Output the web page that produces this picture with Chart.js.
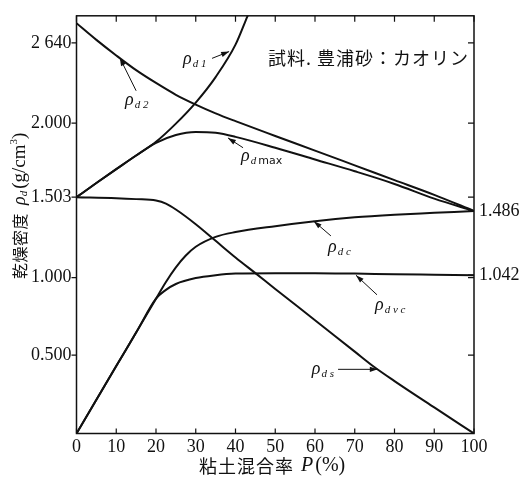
<!DOCTYPE html>
<html>
<head>
<meta charset="utf-8">
<script src="https://cdn.jsdelivr.net/npm/chart.js@4.4.1/dist/chart.umd.min.js"></script>
<style>
  html, body { margin: 0; padding: 0; background: #fff; }
  #wrap { width: 522px; height: 482px; }
</style>
</head>
<body>
<div id="wrap"><canvas id="densityChart"></canvas></div>
<script>
// clay content P (%) and dry density (g/cm3)
const pD1 = [0, 5, 10, 15, 20, 25, 30, 35, 40, 43, 45];
const rhoD1 = [1.503, 1.598, 1.691, 1.783, 1.875, 1.997, 2.164, 2.367, 2.625, 2.851, 3.0];

const pD2 = [0, 5, 10, 15, 20, 25, 30, 35, 40, 50, 60, 70, 80, 90, 100];
const rhoD2 = [2.796, 2.663, 2.539, 2.422, 2.320, 2.226, 2.148, 2.078, 2.016, 1.914, 1.816, 1.717, 1.618, 1.519, 1.417];

const pDmax = [0, 5, 10, 15, 20, 25, 30, 35, 40, 50, 60, 70, 80, 90, 100];
const rhoDmax = [1.503, 1.598, 1.691, 1.783, 1.868, 1.921, 1.941, 1.935, 1.908, 1.835, 1.756, 1.677, 1.592, 1.494, 1.417];

const pDs = [0, 10, 15, 20, 22.5, 25, 30, 35, 40, 45, 50, 60, 70, 75, 80, 90, 100];
const rhoDs = [1.503, 1.497, 1.491, 1.482, 1.463, 1.426, 1.334, 1.230, 1.126, 1.028, 0.927, 0.725, 0.522, 0.422, 0.334, 0.166, 0];

const pDc = [0, 5, 10, 15, 20, 22.5, 25, 27.5, 30, 35, 40, 50, 60, 70, 80, 90, 100];
const rhoDc = [0, 0.215, 0.43, 0.645, 0.864, 0.972, 1.064, 1.138, 1.193, 1.255, 1.285, 1.322, 1.353, 1.377, 1.393, 1.405, 1.417];

const pDvc = [0, 5, 10, 15, 20, 22.5, 25, 30, 35, 40, 50, 60, 70, 80, 90, 100];
const rhoDvc = [0, 0.215, 0.43, 0.645, 0.864, 0.921, 0.959, 0.997, 1.015, 1.025, 1.028, 1.028, 1.025, 1.021, 1.018, 1.015];

const xTicks = [0, 10, 20, 30, 40, 50, 60, 70, 80, 90, 100];
const yTicks = [0.5, 1.0, 1.503, 2.0, 2.64];
const yTickLabels = ['0.500', '1.000', '1.503', '2.000', '2 640'];
const y2Ticks = [1.042, 1.486];
const y2TickLabels = ['1.042', '1.486'];

// the printed axis is not evenly spaced, so each axis gets its own anchor points (value -> fraction of height)
const axisAnchors = {
  y: [[0, 0], [0.5, 0.1878], [1.0, 0.3732], [1.503, 0.5657], [2.0, 0.7430], [2.64, 0.9354], [2.855, 1]],
  y2: [[0, 0], [1.042, 0.3791], [1.486, 0.5329], [2.855, 1]]
};

function toDecimal(anchors, v) {
  let i = 1;
  while (i < anchors.length - 1 && v > anchors[i][0]) i++;
  const [v0, f0] = anchors[i - 1], [v1, f1] = anchors[i];
  return f0 + (v - v0) * (f1 - f0) / (v1 - v0);
}
function fromDecimal(anchors, f) {
  let i = 1;
  while (i < anchors.length - 1 && f > anchors[i][1]) i++;
  const [v0, f0] = anchors[i - 1], [v1, f1] = anchors[i];
  return v0 + (f - f0) * (v1 - v0) / (f1 - f0);
}

class AnchoredScale extends Chart.LinearScale {
  getPixelForValue(value) {
    if (value === null || isNaN(value)) return NaN;
    return this.getPixelForDecimal(toDecimal(axisAnchors[this.id], value));
  }
  getValueForPixel(pixel) {
    return fromDecimal(axisAnchors[this.id], this.getDecimalForPixel(pixel));
  }
}
AnchoredScale.id = 'anchored';
AnchoredScale.defaults = {};
Chart.register(AnchoredScale);

const pts = (ps, vs) => ps.map((p, i) => ({ x: p, y: vs[i] }));
const curve = (label, ps, vs) => ({
  label, data: pts(ps, vs),
  borderColor: '#111', borderWidth: 2, pointRadius: 0,
  cubicInterpolationMode: 'monotone', fill: false
});

const serif = '"Liberation Serif", "DejaVu Serif", serif';
const cjk = '"Noto Sans CJK JP", sans-serif';

function put(ctx, text, font, x, y) {
  ctx.font = font;
  ctx.fillText(text, x, y);
  return x + ctx.measureText(text).width;
}

function arrow(ctx, x0, y0, x1, y1) {
  ctx.beginPath();
  ctx.moveTo(x0, y0);
  ctx.lineTo(x1, y1);
  ctx.lineWidth = 1;
  ctx.stroke();
  const a = Math.atan2(y1 - y0, x1 - x0), L = 8, W = 2.6;
  ctx.beginPath();
  ctx.moveTo(x1, y1);
  ctx.lineTo(x1 - L * Math.cos(a) + W * Math.sin(a), y1 - L * Math.sin(a) - W * Math.cos(a));
  ctx.lineTo(x1 - L * Math.cos(a) - W * Math.sin(a), y1 - L * Math.sin(a) + W * Math.cos(a));
  ctx.closePath();
  ctx.fill();
}

const decorations = {
  id: 'decorations',
  afterDatasetsDraw(chart) {
    const { ctx, chartArea: a, scales } = chart;
    const sx = scales.x, sy = scales.y;
    ctx.save();
    ctx.strokeStyle = '#111';
    ctx.fillStyle = '#111';

    // frame and tick marks
    ctx.lineWidth = 1.5;
    ctx.strokeRect(a.left, a.top, a.right - a.left, a.bottom - a.top);
    ctx.lineWidth = 1.2;
    ctx.beginPath();
    sx.ticks.forEach(t => {
      const px = sx.getPixelForValue(t.value);
      ctx.moveTo(px, a.bottom); ctx.lineTo(px, a.bottom - 5);
      ctx.moveTo(px, a.top); ctx.lineTo(px, a.top + 6);
    });
    sy.ticks.forEach(t => {
      const py = sy.getPixelForValue(t.value);
      ctx.moveTo(a.left - 5, py); ctx.lineTo(a.left, py);
      ctx.moveTo(a.right, py); ctx.lineTo(a.right - 6, py);
    });
    scales.y2.ticks.forEach(t => {
      const py = scales.y2.getPixelForValue(t.value);
      ctx.moveTo(a.right, py); ctx.lineTo(a.right - 6, py);
    });
    ctx.stroke();

    // curve names with leader arrows (positions in data units)
    const notes = [
      { sub: 'd1', text: [26.8, 2.469], from: [34.1, 2.516], to: [38.4, 2.570] },
      { sub: 'd2', text: [12.2, 2.148], from: [15.0, 2.258], to: [10.9, 2.52] },
      { sub: 'd', tail: 'max', text: [41.4, 1.743], from: [41.9, 1.835], to: [38.1, 1.901] },
      { sub: 'dc', text: [63.3, 1.163], from: [64.0, 1.261], to: [59.7, 1.353] },
      { sub: 'dvc', text: [75.1, 0.788], from: [75.6, 0.889], to: [70.3, 1.015] },
      { sub: 'ds', text: [59.2, 0.378], from: [65.8, 0.409], to: [75.8, 0.409] }
    ];
    ctx.textBaseline = 'alphabetic';
    ctx.textAlign = 'left';
    notes.forEach(n => {
      let x = sx.getPixelForValue(n.text[0]);
      const y = sy.getPixelForValue(n.text[1]);
      x = put(ctx, 'ρ', 'italic 18px ' + serif, x, y);
      x = put(ctx, n.sub.split('').join(' '), 'italic 11px ' + serif, x + 1, y + 3);
      if (n.tail) put(ctx, 'max', '11px "DejaVu Sans", sans-serif', x + 2, y + 3);
      arrow(ctx, sx.getPixelForValue(n.from[0]), sy.getPixelForValue(n.from[1]),
        sx.getPixelForValue(n.to[0]), sy.getPixelForValue(n.to[1]));
    });

    // sample note
    ctx.textAlign = 'right';
    ctx.textBaseline = 'middle';
    ctx.letterSpacing = '1px';
    put(ctx, '試料. 豊浦砂：カオリン', '18px ' + cjk, a.right - 5, a.top + 42);

    // x axis title
    ctx.textAlign = 'left';
    ctx.letterSpacing = '1px';
    let tx = 199;
    tx = put(ctx, '粘土混合率', '18px ' + cjk, tx, 466);
    ctx.letterSpacing = '0px';
    tx = put(ctx, 'P', 'italic 20px ' + serif, tx + 7, 466);
    put(ctx, '(%)', '20px ' + serif, tx + 2, 466);

    // y axis title, reading bottom to top
    ctx.translate(20, 279);
    ctx.rotate(-Math.PI / 2);
    ctx.letterSpacing = '0.5px';
    let ty = 0;
    ty = put(ctx, '乾燥密度', '16px ' + cjk, ty, 0);
    ctx.letterSpacing = '0px';
    ty = put(ctx, 'ρ', 'italic 18px ' + serif, ty + 8, 0);
    ty = put(ctx, 'd', 'italic 11px ' + serif, ty, 4);
    ty = put(ctx, '(g/cm', '19px ' + serif, ty + 2, 0);
    ty = put(ctx, '3', '11px ' + serif, ty, -6);
    put(ctx, ')', '19px ' + serif, ty, 0);
    ctx.restore();
  }
};

const tickFont = { family: serif, size: 18 };

new Chart(document.getElementById('densityChart'), {
  type: 'line',
  data: {
    datasets: [
      curve('ρd1', pD1, rhoD1),
      curve('ρd2', pD2, rhoD2),
      curve('ρdmax', pDmax, rhoDmax),
      curve('ρds', pDs, rhoDs),
      curve('ρdc', pDc, rhoDc),
      curve('ρdvc', pDvc, rhoDvc)
    ]
  },
  options: {
    responsive: true,
    maintainAspectRatio: false,
    animation: false,
    layout: { padding: { top: 7.5, left: 0, right: 0, bottom: 0 } },
    plugins: { legend: { display: false }, tooltip: { enabled: false } },
    scales: {
      x: {
        type: 'linear', min: 0, max: 100,
        grid: { display: false, drawTicks: false },
        border: { display: false },
        afterBuildTicks: s => { s.ticks = xTicks.map(v => ({ value: v })); },
        afterFit: s => { s.height = 48.5; },
        ticks: { font: tickFont, color: '#111', padding: 3, maxRotation: 0, autoSkip: false,
          callback: v => String(v) }
      },
      y: {
        type: 'anchored', position: 'left', min: 0, max: 2.855,
        grid: { display: false, drawTicks: false },
        border: { display: false },
        afterBuildTicks: s => { s.ticks = yTicks.map(v => ({ value: v })); },
        afterFit: s => { s.width = 76.5; },
        ticks: { font: tickFont, color: '#111', padding: 5, autoSkip: false,
          callback: v => yTickLabels[yTicks.indexOf(v)] }
      },
      y2: {
        type: 'anchored', position: 'right', min: 0, max: 2.855,
        grid: { display: false, drawTicks: false },
        border: { display: false },
        afterBuildTicks: s => { s.ticks = y2Ticks.map(v => ({ value: v })); },
        afterFit: s => { s.width = 48; },
        ticks: { font: tickFont, color: '#111', padding: 5, autoSkip: false,
          callback: v => y2TickLabels[y2Ticks.indexOf(v)] }
      }
    }
  },
  plugins: [decorations]
});
</script>
</body>
</html>
